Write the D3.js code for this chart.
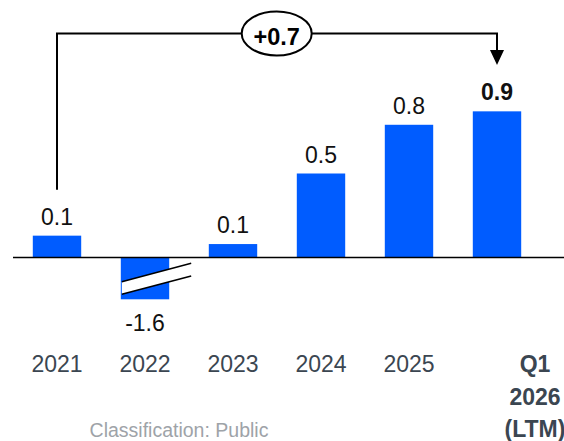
<!DOCTYPE html>
<html>
<head>
<meta charset="utf-8">
<script src="https://cdn.jsdelivr.net/npm/d3@7"></script>
<style>
  html, body { margin: 0; padding: 0; background: #fff; }
  svg { display: block; font-family: "Liberation Sans", Arial, sans-serif; }
</style>
</head>
<body>
<svg id="chart" width="564" height="441"></svg>
<script>
// Annual change, one bar per period
const categories = ["2021", "2022", "2023", "2024", "2025", "Q1 2026 (LTM)"];
const values = [0.13, -1.6, 0.08, 0.5, 0.79, 0.87];
// Periods whose bars cross the axis break
const brokenBars = ["2022"];
// Change highlighted by the bracket, first period to latest
const bracketFrom = "2021";
const bracketTo = "Q1 2026 (LTM)";
const bracketLabel = "+0.7";
const footnote = "Classification: Public";

const W = 564, H = 441;
const barColor = "#005cff";
const axisLabelColor = "#3b4651";
const fmt = d3.formatLocale({ decimal: ".", thousands: ",", grouping: [3], currency: ["", ""], minus: "-" }).format(".1f");

const svg = d3.select("#chart");

const x = d3.scaleBand()
  .domain(categories)
  .range([13, 541])
  .paddingInner(0.45)
  .paddingOuter(0.225);

// Broken value axis: negatives are compressed below zero
const y = d3.scaleLinear()
  .domain([-1.6, 0, 1])
  .range([299.3, 257.5, 89.5]);

const data = categories.map((c, i) => ({ cat: c, value: values[i] }));
const cx = c => x(c) + x.bandwidth() / 2;
const last = categories[categories.length - 1];

// Bars
svg.append("g").selectAll("rect")
  .data(data)
  .join("rect")
  .attr("x", d => x(d.cat))
  .attr("width", x.bandwidth())
  .attr("y", d => y(Math.max(0, d.value)))
  .attr("height", d => Math.abs(y(d.value) - y(0)))
  .attr("fill", barColor);

// Zero line
svg.append("line")
  .attr("x1", 13).attr("x2", W)
  .attr("y1", y(0)).attr("y2", y(0))
  .attr("stroke", "#000").attr("stroke-width", 1.5);

// Axis-break marks across the compressed bars
brokenBars.forEach(c => {
  const x0 = x(c) + 1, x1 = x(c) + x.bandwidth() + 22;
  const yTop = y(0) + 24.2, gap = 12.6, rise = 18.4;
  svg.append("path")
    .attr("d", `M${x0},${yTop}L${x1},${yTop - rise}L${x1},${yTop - rise + gap}L${x0},${yTop + gap}Z`)
    .attr("fill", "#fff");
  [0, gap].forEach(off => {
    svg.append("line")
      .attr("x1", x0).attr("y1", yTop + off)
      .attr("x2", x1).attr("y2", yTop - rise + off)
      .attr("stroke", "#000").attr("stroke-width", 1.6);
  });
});

// Value labels
svg.append("g").selectAll("text")
  .data(data)
  .join("text")
  .attr("x", d => cx(d.cat))
  .attr("y", d => d.value >= 0 ? y(d.value) - 11 : y(d.value) + 32)
  .attr("text-anchor", "middle")
  .attr("font-size", 23)
  .attr("font-weight", d => d.cat === last ? "bold" : "normal")
  .attr("fill", "#111")
  .text(d => fmt(d.value));

// Category labels
const catG = svg.append("g");
categories.forEach(c => {
  if (c === last) {
    const t = catG.append("text")
      .attr("x", cx(c) + 38)
      .attr("y", 372)
      .attr("text-anchor", "middle")
      .attr("font-size", 23)
      .attr("font-weight", "bold")
      .attr("fill", axisLabelColor);
    ["Q1", "2026", "(LTM)"].forEach((w, i) => {
      t.append("tspan").attr("x", cx(c) + 38).attr("dy", i === 0 ? 0 : 32.5).text(w);
    });
  } else {
    catG.append("text")
      .attr("x", cx(c))
      .attr("y", 372)
      .attr("text-anchor", "middle")
      .attr("font-size", 23)
      .attr("fill", axisLabelColor)
      .text(c);
  }
});

// Bracket from first to latest period
const bY = 33.5;
const bx0 = cx(bracketFrom), bx1 = cx(bracketTo);
svg.append("path")
  .attr("d", `M${bx0},${y(values[0]) - 46}V${bY}H${bx1}V${52}`)
  .attr("fill", "none")
  .attr("stroke", "#000")
  .attr("stroke-width", 2);
svg.append("path")
  .attr("d", `M${bx1 - 7},${50}L${bx1 + 7},${50}L${bx1},${65}Z`)
  .attr("fill", "#000");

const ex = 276.7;
svg.append("ellipse")
  .attr("cx", ex).attr("cy", bY)
  .attr("rx", 35).attr("ry", 22)
  .attr("fill", "#fff")
  .attr("stroke", "#000")
  .attr("stroke-width", 2);
svg.append("text")
  .attr("x", ex).attr("y", bY + 11.5)
  .attr("text-anchor", "middle")
  .attr("font-size", 23.5)
  .attr("font-weight", "bold")
  .attr("fill", "#000")
  .text(bracketLabel);

// Footnote
svg.append("text")
  .attr("x", 179).attr("y", 437)
  .attr("text-anchor", "middle")
  .attr("font-size", 19.5)
  .attr("fill", "#9ea3a8")
  .text(footnote);
</script>
</body>
</html>
